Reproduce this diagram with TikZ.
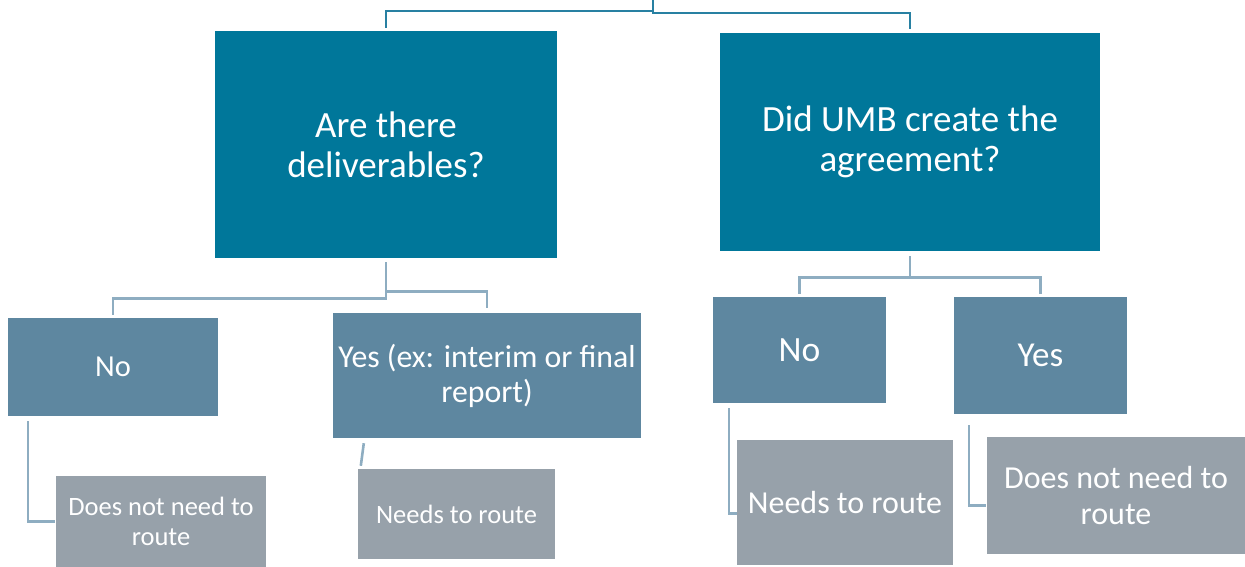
\documentclass[tikz,border=0pt]{standalone}
\usepackage{fontspec}
\setmainfont{Carlito}
\usetikzlibrary{calc}
\definecolor{cdark}{RGB}{0,119,154}
\definecolor{cmid}{RGB}{94,135,160}
\definecolor{cgrey}{RGB}{151,161,170}
\definecolor{ctop}{RGB}{40,128,162}
\definecolor{csub}{RGB}{142,173,193}
\newcommand{\fsz}[2]{\fontsize{#1pt}{#2pt}\selectfont}
\begin{document}
\begin{tikzpicture}[x=1pt,y=-1pt,
  box/.style={draw=none,inner sep=0pt,text=white,align=center},
  qbox/.style={box,fill=cdark},
  abox/.style={box,fill=cmid},
  rbox/.style={box,fill=cgrey},
  topline/.style={draw=ctop,line width=2.6pt},
  subline/.style={draw=csub,line width=2.6pt}]
\useasboundingbox (0,0) rectangle (1245,567);
% question boxes
\node[qbox,minimum width=342pt,minimum height=227pt,font=\fsz{37}{40}] (A) at (386,144.5) {Are there\\deliverables?};
\node[qbox,minimum width=380pt,minimum height=218pt,font=\fsz{37}{40}] (B) at (910,142) {Did UMB create the\\agreement?};
% answer boxes
\node[abox,minimum width=210pt,minimum height=98pt,font=\fsz{30.5}{34}] (No1) at (113,367) {No};
\node[abox,minimum width=308pt,minimum height=125pt,font=\fsz{31.8}{35}] (Yes1) at (487,375.5) {Yes (ex: interim or final\\report)};
\node[abox,minimum width=173pt,minimum height=106pt,font=\fsz{35.5}{40}] (No2) at (799.5,350) {No};
\node[abox,minimum width=173pt,minimum height=117pt,font=\fsz{35}{38}] (Yes2) at (1040.5,355.5) {Yes};
% result boxes
\node[rbox,minimum width=210pt,minimum height=92pt,font=\fsz{26.5}{30}] (D1) at (161,521.5) {Does not need to\\route};
\node[rbox,minimum width=197pt,minimum height=90pt,font=\fsz{26.5}{30}] (N1) at (456.5,514) {Needs to route};
\node[rbox,minimum width=216pt,minimum height=125pt,font=\fsz{32}{36}] (N2) at (845,502.5) {Needs to route};
\node[rbox,minimum width=258pt,minimum height=117pt,font=\fsz{32}{36}] (D2) at (1116,495.5) {Does not need to\\route};
% top connectors
\coordinate (top) at (653,-2);
\draw[topline] (top) -- (653,11) -| ([yshift=3pt]A.north);
\draw[topline] (top) -- (653,13) -| ([yshift=4pt]B.north);
% connectors below A
\draw[subline] ([yshift=-4pt]A.south) -- ++(0,36) -| ([yshift=3pt]No1.north);
\draw[subline] ([yshift=-4pt]A.south) -- ++(0,29) -| ([yshift=5pt]Yes1.north);
% connectors below B
\draw[subline] ([yshift=-5pt]B.south) -- ++(0,21) -| ([yshift=3pt]No2.north);
\draw[subline] ([yshift=-5pt]B.south) -- ++(0,21) -| ([yshift=3pt]Yes2.north);
% answer to result
\draw[subline] ([xshift=20pt,yshift=-5pt]No1.south west) |- ([xshift=-1pt]D1.west);
\draw[subline] ([xshift=31pt,yshift=-5pt]Yes1.south west) -- ([xshift=3pt,yshift=3pt]N1.north west);
\draw[subline] ([xshift=16pt,yshift=-5pt]No2.south west) |- ([yshift=-11pt]N2.west);
\draw[subline] ([xshift=15pt,yshift=-11pt]Yes2.south west) |- ([xshift=-1pt,yshift=-10pt]D2.west);
\end{tikzpicture}
\end{document}
